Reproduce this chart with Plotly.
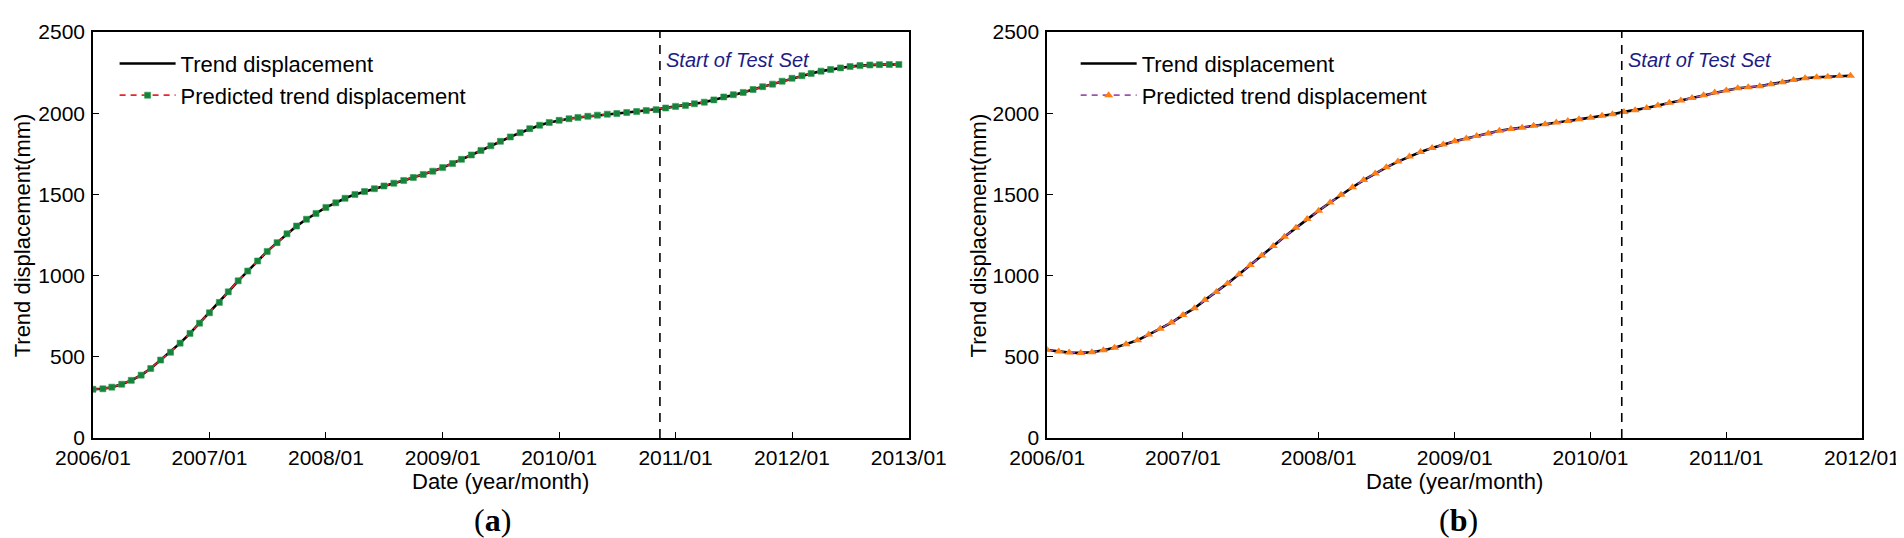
import plotly.graph_objects as go
import pandas as pd

# ---------------- data ----------------
# Panel (a): monthly trend displacement, 2006/01 .. 2012/12 (mm)
trend_a = [
    300, 303, 313, 331, 355, 387, 428, 480, 528, 584, 644, 707,          # 2006
    771, 835, 900, 968, 1028, 1090, 1149, 1203, 1257, 1305, 1347, 1383,  # 2007
    1420, 1448, 1476, 1500, 1518, 1535, 1552, 1569, 1586, 1604, 1623, 1643,  # 2008
    1665, 1690, 1716, 1743, 1771, 1799, 1827, 1854, 1880, 1905, 1926, 1943,  # 2009
    1956, 1966, 1974, 1981, 1988, 1994, 1998, 2004, 2010, 2016, 2022, 2032,  # 2010
    2042, 2048, 2058, 2068, 2082, 2100, 2114, 2128, 2146, 2163, 2179, 2197,  # 2011
    2215, 2231, 2245, 2259, 2269, 2279, 2287, 2293, 2297, 2299, 2300, 2300,  # 2012
]
pred_a = list(trend_a)

# Panel (b): monthly trend displacement, 2006/01 .. 2011/12 (mm)
trend_b = [
    542, 532, 526, 524, 528, 540, 556, 578, 602, 637, 673, 711,          # 2006
    757, 799, 849, 899, 952, 1008, 1066, 1124, 1182, 1239, 1294, 1348,   # 2007
    1400, 1450, 1498, 1544, 1588, 1629, 1667, 1702, 1733, 1761, 1786, 1808,  # 2008
    1827, 1844, 1860, 1875, 1892, 1902, 1911, 1922, 1932, 1942, 1952, 1962,  # 2009
    1972, 1984, 1994, 2008, 2018, 2032, 2048, 2064, 2078, 2094, 2110, 2127,  # 2010
    2140, 2154, 2160, 2166, 2179, 2191, 2205, 2215, 2221, 2225, 2229, 2231,  # 2011
]
pred_b = list(trend_b)

dates_a = pd.date_range("2006-01-01", periods=len(trend_a), freq="MS")
dates_b = pd.date_range("2006-01-01", periods=len(trend_b), freq="MS")

test_start_a = "2010-11-13"
test_start_b = "2010-03-26"

range_a = ["2006-01-01", "2013-01-01"]
range_b = ["2006-01-01", "2012-01-01"]
y_range = [0, 2500]
y_ticks = [0, 500, 1000, 1500, 2000, 2500]

name_trend = "Trend displacement"
name_pred = "Predicted trend displacement"
x_title = "Date (year/month)"
y_title = "Trend displacement(mm)"
test_label = "Start of Test Set"
panel_labels = ["(<b>a</b>)", "(<b>b</b>)"]

# ---------------- figure ----------------
SANS = "Liberation Sans, Arial, Helvetica, sans-serif"
SERIF = "Liberation Serif, Times New Roman, serif"

W, H = 1904, 538
ML, MR, MT, MB = 85, 17, 15, 108
PW = W - ML - MR
PH = H - MT - MB

def px_x(px):
    return (px - ML) / PW

def px_y(py):
    return 1 - (py - MT) / PH

fig = go.Figure()

# Panel (a)
fig.add_trace(go.Scatter(x=dates_a, y=trend_a, mode="lines", name=name_trend,
                         line=dict(color="black", width=2.6),
                         xaxis="x", yaxis="y", legend="legend"))
fig.add_trace(go.Scatter(x=dates_a, y=pred_a, mode="lines+markers", name=name_pred,
                         line=dict(color="#e8262a", width=1.6, dash="6px,5px"),
                         marker=dict(symbol="square", size=6, color="#16833a",
                                     line=dict(color="#2f9a50", width=0.6)),
                         xaxis="x", yaxis="y", legend="legend"))
# Panel (b)
fig.add_trace(go.Scatter(x=dates_b, y=trend_b, mode="lines", name=name_trend,
                         line=dict(color="black", width=2.6),
                         xaxis="x2", yaxis="y2", legend="legend2"))
fig.add_trace(go.Scatter(x=dates_b, y=pred_b, mode="lines+markers", name=name_pred,
                         line=dict(color="#a050b0", width=1.6, dash="6px,5px"),
                         marker=dict(symbol="triangle-up", size=8, color="#ff7f17",
                                     line=dict(width=0)),
                         xaxis="x2", yaxis="y2", legend="legend2"))

dom_a = [0, px_x(916)]
dom_b = [px_x(1057), 1]

xcommon = dict(type="date", tick0="2006-01-01", dtick="M12", tickformat="%Y/%m",
               showgrid=False, zeroline=False, showline=True, linecolor="black",
               linewidth=1.6, mirror=True, ticks="inside", ticklen=6, tickcolor="black",
               tickwidth=1.3, tickfont=dict(family=SANS, size=21, color="black"),
               ticklabelstandoff=0)
ycommon = dict(range=y_range, tickvals=y_ticks, showgrid=False, zeroline=False,
               showline=True, linecolor="black", linewidth=1.6, mirror=True,
               ticks="inside", ticklen=6, tickcolor="black", tickwidth=1.3,
               tickfont=dict(family=SANS, size=21, color="black"),
               ticklabelstandoff=2)

legend_common = dict(xanchor="left", yanchor="top", bgcolor="rgba(0,0,0,0)",
                     borderwidth=0, tracegroupgap=0, itemwidth=56,
                     font=dict(family=SANS, size=22, color="black"))

fig.update_layout(
    width=W, height=H,
    margin=dict(l=ML, r=MR, t=MT, b=MB),
    paper_bgcolor="white", plot_bgcolor="white",
    showlegend=True,
    xaxis=dict(domain=dom_a, range=range_a, anchor="y", **xcommon),
    yaxis=dict(domain=[0, 1], anchor="x", **ycommon),
    xaxis2=dict(domain=dom_b, range=range_b, anchor="y2", **xcommon),
    yaxis2=dict(domain=[0, 1], anchor="x2", **ycommon),
    legend=dict(x=px_x(107), y=px_y(26), **legend_common),
    legend2=dict(x=px_x(1086), y=px_y(26), **legend_common),
)

# Start of test set lines and labels
for xa, ya, xs in (("x", "y", test_start_a), ("x2", "y2", test_start_b)):
    fig.add_shape(type="line", xref=xa, yref=ya + " domain", x0=xs, x1=xs, y0=0, y1=1,
                  line=dict(color="black", width=1.6, dash="9px,7px"))
    fig.add_annotation(xref=xa, yref="paper", x=xs, y=px_y(44), text=f"<i>{test_label}</i>",
                       showarrow=False, xanchor="left", yanchor="middle", xshift=4,
                       font=dict(family=SANS, size=20, color="#1c1c86"))

# Axis titles and panel labels
for xc, ytx in ((px_x(500.5), px_x(13)), (px_x(1472), px_x(987))):
    fig.add_annotation(xref="paper", yref="paper", x=xc, y=px_y(474), text=x_title,
                       showarrow=False, xanchor="center", yanchor="middle",
                       font=dict(family=SANS, size=22, color="black"))
    fig.add_annotation(xref="paper", yref="paper", x=ytx, y=0.5, text=y_title,
                       textangle=-90, showarrow=False, xanchor="center", yanchor="middle",
                       font=dict(family=SANS, size=22, color="black"))

for xc, lab in ((px_x(492), panel_labels[0]), (px_x(1476), panel_labels[1])):
    fig.add_annotation(xref="paper", yref="paper", x=xc, y=px_y(514), text=lab,
                       showarrow=False, xanchor="center", yanchor="middle",
                       font=dict(family=SERIF, size=32, color="black"))

fig.write_html("out.html")
